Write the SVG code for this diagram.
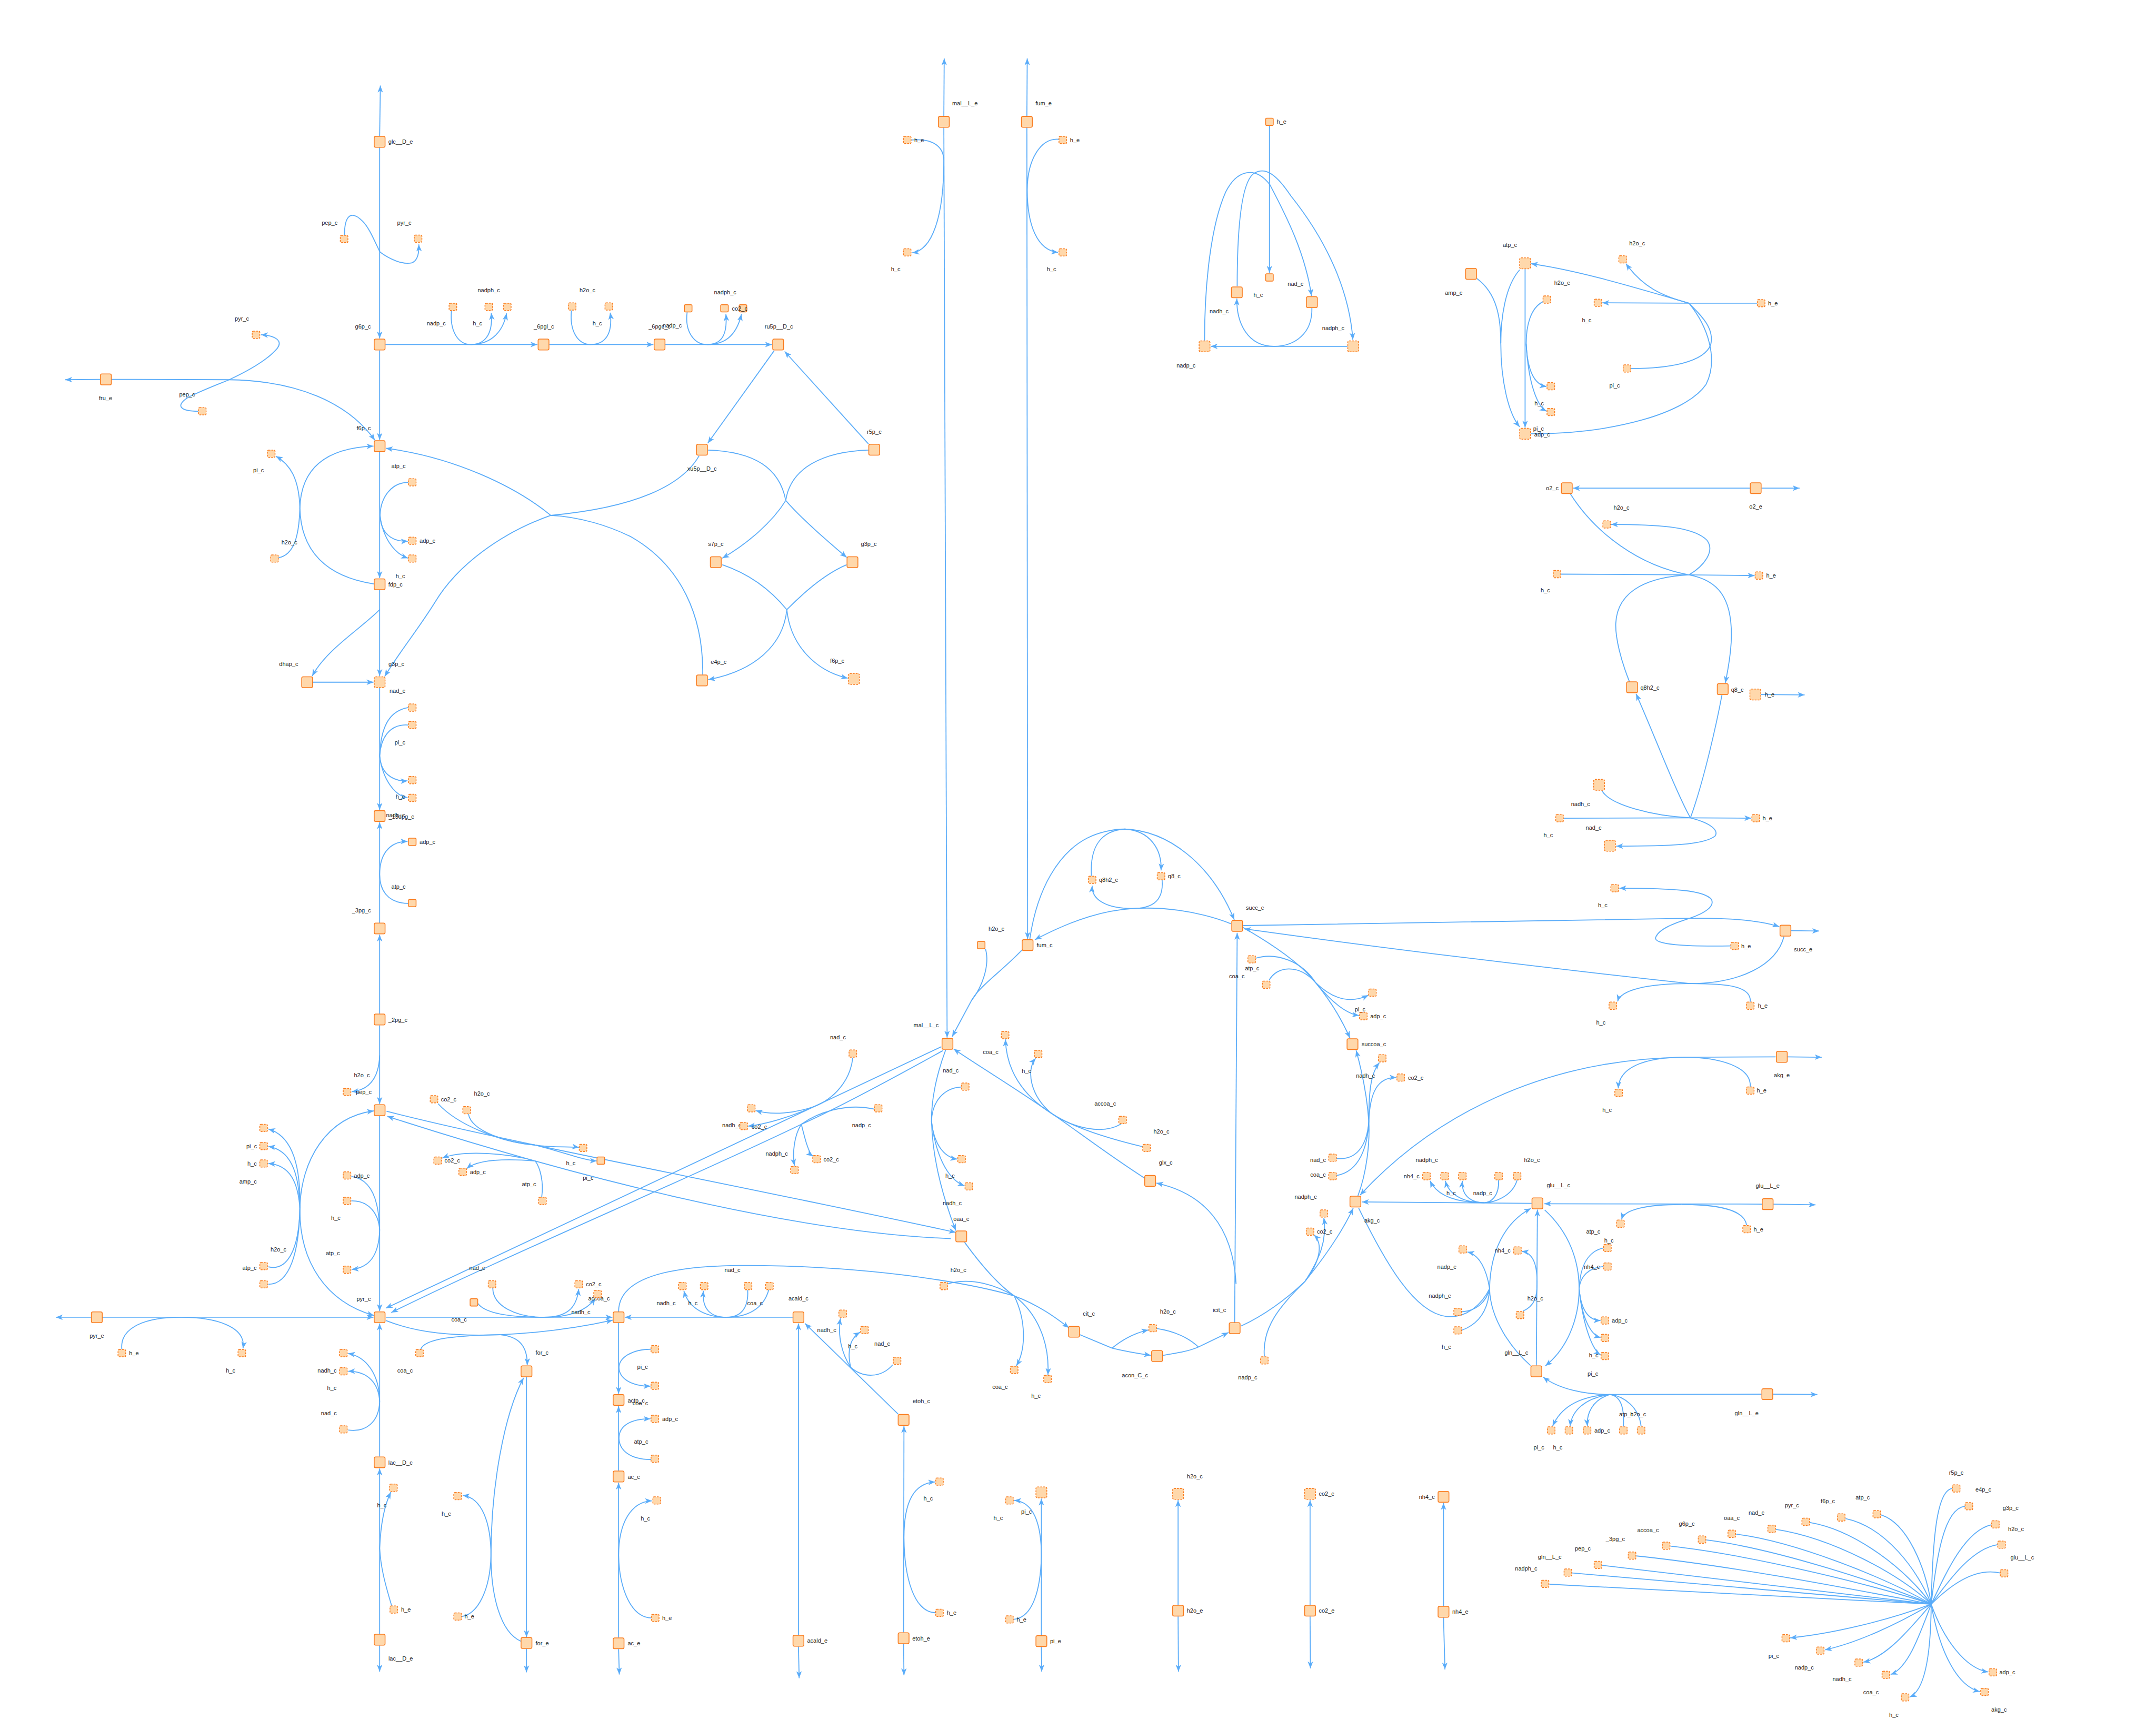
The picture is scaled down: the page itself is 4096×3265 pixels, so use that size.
<svg xmlns="http://www.w3.org/2000/svg" xmlns:xlink="http://www.w3.org/1999/xlink" width="4096" height="3265" viewBox="0 0 4096 3265">
<defs>
<style>
.n{fill:#FFD8AB;stroke:#F97A1C;stroke-width:2.2}
.d{fill:#FFD8AB;stroke:#F97A1C;stroke-width:2.2;stroke-dasharray:5 3}
.e{fill:none;stroke:#5AACF9;stroke-width:2.6}
.a{marker-end:url(#ah)}
.b{marker-start:url(#ah)}
text{font-family:"Liberation Sans",Arial,sans-serif;font-size:16px;fill:#1a1a1a;dominant-baseline:central}
.c{text-anchor:middle}
.s{text-anchor:start}
</style>
<marker id="ah" viewBox="-20 -8 21 16" refX="0" refY="0" markerWidth="21" markerHeight="16" markerUnits="userSpaceOnUse" orient="auto-start-reverse"><path d="M0,0 L-19,-7.5 L-14,0 L-19,7.5 Z" fill="#5AACF9"/></marker>
<rect id="L" x="-15" y="-15" width="30" height="30" rx="4"/>
<rect id="S" x="-10.5" y="-10" width="21" height="20" rx="3"/>
</defs>
<rect width="4096" height="3265" fill="#fff"/>
<g transform="scale(0.68887)">
<g id="connectors">
<path class="e a" d="M1047,375 L1049,236"/>
<path class="e a" d="M1047,407 L1047,933"/>
<path class="e a" d="M950,648 C950,600 965,575 1000,610 C1020,630 1035,670 1048,695 C1075,715 1110,730 1135,725 C1150,720 1156,700 1155,674"/>
<path class="e a" d="M1063,950 L1482,950"/>
<path class="e" d="M1245,857 C1240,915 1265,950 1298,950"/>
<path class="e a" d="M1298,950 C1335,950 1360,925 1355,863"/>
<path class="e a" d="M1298,950 C1345,950 1385,925 1397,864"/>
<path class="e a" d="M1515,950 L1802,950"/>
<path class="e" d="M1576,856 C1570,915 1595,950 1629,950"/>
<path class="e a" d="M1629,950 C1670,950 1690,920 1683,862"/>
<path class="e a" d="M1835,950 L2129,950"/>
<path class="e" d="M1895,861 C1888,915 1915,950 1950,950"/>
<path class="e a" d="M1950,950 C1985,950 2007,930 2002,866"/>
<path class="e a" d="M1950,950 C1995,950 2030,930 2045,866"/>
<path class="e a" d="M2135,967 L1952,1222"/>
<path class="e a" d="M2395,1224 L2164,969"/>
<path class="e" d="M1952,1241 C2080,1245 2150,1290 2167,1380"/>
<path class="e" d="M2395,1241 C2270,1245 2180,1290 2167,1380"/>
<path class="e a" d="M2167,1380 C2130,1440 2060,1500 1992,1539"/>
<path class="e a" d="M2167,1380 C2210,1430 2280,1490 2335,1537"/>
<path class="e" d="M1928,1257 C1880,1340 1750,1400 1519,1421"/>
<path class="e" d="M1938,1860 C1940,1700 1880,1560 1740,1480 C1680,1450 1600,1425 1519,1421"/>
<path class="e a" d="M1519,1421 C1420,1340 1250,1260 1064,1236"/>
<path class="e a" d="M1519,1421 C1380,1470 1260,1560 1200,1660 C1150,1740 1100,1800 1061,1865"/>
<path class="e" d="M1992,1557 C2060,1580 2120,1620 2170,1681"/>
<path class="e" d="M2335,1557 C2280,1580 2220,1630 2170,1681"/>
<path class="e a" d="M2170,1681 C2160,1780 2080,1850 1953,1874"/>
<path class="e a" d="M2170,1681 C2180,1780 2250,1850 2338,1870"/>
<path class="e a" d="M276,1046 L180,1047"/>
<path class="e a" d="M308,1046 L632,1047 C820,1050 960,1110 1034,1214"/>
<path class="e" d="M547,1134 C500,1134 480,1120 520,1095 C560,1075 600,1060 632,1047"/>
<path class="e a" d="M632,1047 C690,1020 740,990 765,960 C780,940 760,925 720,923"/>
<path class="e a" d="M1047,966 L1047,1213"/>
<path class="e a" d="M1047,1246 L1047,1594"/>
<path class="e" d="M1126,1330 C1080,1330 1050,1370 1048,1421"/>
<path class="e a" d="M1048,1421 C1050,1465 1075,1495 1125,1492"/>
<path class="e a" d="M1048,1421 C1055,1480 1085,1525 1125,1539"/>
<path class="e a" d="M1031,1610 C900,1590 830,1520 827,1401 C830,1290 900,1235 1030,1230"/>
<path class="e" d="M768,1538 C810,1530 825,1480 827,1401"/>
<path class="e a" d="M827,1401 C825,1320 800,1280 761,1258"/>
<path class="e a" d="M1047,1627 L1047,1864"/>
<path class="e a" d="M1047,1681 C1000,1730 900,1790 861,1864"/>
<path class="e a" d="M863,1881 L1030,1881"/>
<path class="e a" d="M1047,1897 L1047,2233"/>
<path class="e" d="M1126,1951 C1070,1960 1050,2010 1047,2084"/>
<path class="e" d="M1126,1999 C1070,1995 1050,2040 1047,2084"/>
<path class="e a" d="M1047,2084 C1050,2130 1080,2155 1124,2153"/>
<path class="e a" d="M1047,2084 C1055,2150 1090,2195 1124,2199"/>
<path class="e a" d="M1047,2545 L1047,2267"/>
<path class="e a" d="M1126,2491 C1065,2490 1047,2450 1047,2411 C1047,2360 1070,2320 1124,2320"/>
<path class="e a" d="M1047,2795 L1047,2577"/>
<path class="e a" d="M1047,2827 L1047,3044"/>
<path class="e a" d="M1047,2910 C1045,2970 1020,3005 970,3010"/>
<path class="e a" d="M1047,3077 L1047,3615"/>
<path class="e" d="M969,3244 C1020,3250 1045,3300 1047,3392"/>
<path class="e" d="M969,3311 C1020,3310 1045,3350 1047,3392"/>
<path class="e a" d="M1047,3392 C1045,3460 1020,3495 970,3500"/>
<path class="e a b" d="M1031,3063 C900,3080 830,3200 827,3331 C825,3480 900,3590 1031,3627"/>
<path class="e a" d="M827,3331 C830,3200 800,3130 740,3113"/>
<path class="e a" d="M827,3331 C825,3230 800,3170 740,3161"/>
<path class="e a" d="M827,3331 C822,3260 800,3212 740,3208"/>
<path class="e" d="M740,3493 C790,3505 825,3450 827,3331"/>
<path class="e" d="M740,3541 C800,3541 825,3450 827,3331"/>
<path class="e a" d="M1047,4016 L1047,3649"/>
<path class="e" d="M960,3943 C1010,3950 1045,3920 1047,3865"/>
<path class="e a" d="M1047,3865 C1047,3790 1010,3740 960,3732"/>
<path class="e a" d="M1047,3865 C1045,3815 1015,3780 960,3781"/>
<path class="e a" d="M1047,4505 L1047,4049"/>
<path class="e a" d="M1080,4427 C1060,4360 1050,4320 1047,4269 C1050,4200 1060,4150 1078,4114"/>
<path class="e a" d="M1047,4537 L1047,4609"/>
<path class="e a" d="M251,3632 L154,3632"/>
<path class="e a" d="M283,3632 L1030,3632"/>
<path class="e a" d="M336,3720 C330,3660 400,3632 499,3632 C600,3632 680,3660 670,3718"/>
<path class="e a" d="M1064,3632 L1689,3632"/>
<path class="e" d="M1318,3594 C1340,3625 1420,3632 1500,3632"/>
<path class="e" d="M1359,3552 C1360,3600 1420,3632 1500,3632"/>
<path class="e a" d="M1500,3632 C1560,3632 1590,3610 1596,3554"/>
<path class="e a" d="M1500,3632 C1580,3632 1620,3610 1642,3580"/>
<path class="e" d="M1064,3641 C1150,3675 1250,3685 1380,3680"/>
<path class="e a" d="M1380,3680 C1430,3685 1455,3710 1454,3764"/>
<path class="e a" d="M1380,3680 C1500,3675 1600,3660 1690,3640"/>
<path class="e" d="M1160,3721 C1170,3690 1260,3682 1380,3680"/>
<path class="e a" d="M1452,3797 L1452,4514"/>
<path class="e a" d="M1452,4546 L1452,4611"/>
<path class="e a" d="M1436,4525 C1380,4500 1354,4400 1354,4289 C1354,4100 1390,3900 1444,3799"/>
<path class="e a" d="M1273,4457 C1320,4450 1352,4380 1354,4289 C1354,4200 1330,4130 1276,4123"/>
<path class="e a" d="M1706,4547 L1708,4617"/>
<path class="e a" d="M1706,4515 L1706,4088"/>
<path class="e a" d="M1797,4461 C1740,4460 1708,4380 1706,4289 C1706,4200 1740,4140 1798,4138"/>
<path class="e a" d="M1706,4055 L1706,3877"/>
<path class="e a" d="M1796,4024 C1740,4025 1708,4000 1707,3966 C1707,3930 1740,3912 1794,3912"/>
<path class="e a" d="M1706,3648 L1706,3843"/>
<path class="e a" d="M1796,3720 C1740,3720 1708,3745 1707,3770 C1707,3800 1740,3822 1794,3822"/>
<path class="e a" d="M2186,3632 L1723,3632"/>
<path class="e" d="M2062,3557 C2065,3610 2040,3632 2004,3632"/>
<path class="e" d="M2120,3557 C2105,3610 2060,3632 2004,3632"/>
<path class="e a" d="M2004,3632 C1950,3632 1900,3610 1886,3559"/>
<path class="e a" d="M2004,3632 C1960,3632 1935,3610 1940,3559"/>
<path class="e a" d="M2477,3899 L2220,3649"/>
<path class="e" d="M2462,3763 C2430,3800 2380,3800 2346,3770"/>
<path class="e a" d="M2346,3770 C2320,3730 2310,3680 2318,3635"/>
<path class="e a" d="M2346,3770 C2335,3720 2345,3690 2372,3673"/>
<path class="e a" d="M2492,4501 L2493,3932"/>
<path class="e a" d="M2492,4533 L2493,4619"/>
<path class="e a" d="M2581,4447 C2520,4445 2494,4350 2493,4240 C2493,4140 2520,4090 2579,4086"/>
<path class="e a" d="M2202,4508 L2202,3649"/>
<path class="e a" d="M2202,4540 L2204,4627"/>
<path class="e a" d="M2872,4509 L2872,4132"/>
<path class="e a" d="M2872,4541 L2873,4609"/>
<path class="e a" d="M2795,4465 C2850,4460 2870,4380 2872,4290 C2872,4200 2850,4140 2797,4137"/>
<path class="e a" d="M3249,4425 L3249,4136"/>
<path class="e a" d="M3249,4457 L3250,4609"/>
<path class="e a" d="M3613,4425 L3613,4136"/>
<path class="e a" d="M3613,4457 L3614,4600"/>
<path class="e a" d="M3981,4428 L3981,4144"/>
<path class="e a" d="M3981,4460 L3985,4603"/>
<path class="e a" d="M2603,320 L2604,161"/>
<path class="e a" d="M2832,320 L2833,161"/>
<path class="e a" d="M2603,352 L2612,2861"/>
<path class="e a" d="M2513,386 C2580,380 2603,410 2603,443 C2603,600 2570,690 2516,697"/>
<path class="e a" d="M2832,352 L2834,2589"/>
<path class="e a" d="M2920,384 C2870,380 2833,440 2833,524 C2833,620 2860,690 2918,696"/>
<path class="e a" d="M2818,2620 C2760,2680 2700,2720 2679,2759 L2626,2858"/>
<path class="e" d="M2718,2617 C2730,2660 2710,2720 2679,2759"/>
<path class="e a" d="M2840,2590 C2860,2450 2920,2350 3000,2310 C3030,2295 3070,2286 3102,2286 C3220,2290 3340,2380 3404,2536"/>
<path class="e" d="M3010,2415 C3005,2330 3040,2290 3102,2286"/>
<path class="e a" d="M3102,2286 C3170,2290 3205,2340 3202,2400"/>
<path class="e a" d="M3395,2547 C3300,2510 3200,2500 3124,2505 C3050,2510 2970,2530 2854,2591"/>
<path class="e" d="M3205,2427 C3210,2490 3170,2505 3124,2505"/>
<path class="e a" d="M3124,2505 C3050,2505 3010,2480 3012,2442"/>
<path class="e a" d="M3429,2552 L4660,2532 C4780,2530 4860,2540 4907,2555"/>
<path class="e a" d="M4773,2608 C4650,2610 4560,2605 4566,2585 C4575,2560 4620,2545 4660,2532 C4700,2518 4730,2500 4720,2480 C4700,2455 4620,2449 4466,2449"/>
<path class="e a" d="M4920,2582 C4900,2660 4800,2712 4660,2712 Q4000,2640 3431,2561"/>
<path class="e" d="M4827,2762 C4830,2720 4770,2712 4660,2712"/>
<path class="e a" d="M4660,2712 C4540,2712 4470,2730 4461,2761"/>
<path class="e a" d="M4897,2914 L4646,2915 C4250,2920 3950,3080 3751,3295"/>
<path class="e" d="M4827,2996 C4830,2940 4740,2915 4646,2915"/>
<path class="e a" d="M4646,2915 C4530,2915 4465,2945 4463,3001"/>
<path class="e a" d="M4930,2914 L5024,2915"/>
<path class="e a" d="M4940,2566 L5017,2567"/>
<path class="e a" d="M3428,2557 C3520,2610 3590,2660 3628,2709 C3670,2760 3700,2810 3723,2862"/>
<path class="e" d="M3463,2642 C3520,2625 3590,2650 3628,2709"/>
<path class="e" d="M3500,2703 C3520,2665 3580,2655 3628,2709"/>
<path class="e a" d="M3628,2709 C3680,2760 3730,2765 3774,2744"/>
<path class="e a" d="M3628,2709 C3670,2760 3710,2795 3748,2800"/>
<path class="e a" d="M3745,3297 C3770,3230 3778,3150 3775,3092 C3770,3020 3755,2950 3740,2896"/>
<path class="e" d="M3686,3194 C3740,3200 3770,3160 3775,3092"/>
<path class="e" d="M3686,3241 C3750,3230 3772,3160 3775,3092"/>
<path class="e a" d="M3775,3092 C3775,3010 3780,2960 3804,2930"/>
<path class="e a" d="M3775,3092 C3778,3010 3800,2970 3851,2971"/>
<path class="e a" d="M3423,3656 C3500,3620 3560,3570 3599,3533 C3650,3470 3700,3400 3732,3331"/>
<path class="e" d="M3487,3740 C3480,3660 3530,3600 3599,3533"/>
<path class="e a" d="M3599,3533 C3640,3470 3660,3420 3651,3358"/>
<path class="e a" d="M3599,3533 C3640,3480 3650,3430 3624,3405"/>
<path class="e a" d="M2978,3680 L3067,3717 C3100,3725 3140,3732 3174,3737"/>
<path class="e a" d="M3067,3717 C3100,3690 3130,3675 3167,3667"/>
<path class="e a" d="M3208,3737 C3250,3730 3280,3725 3305,3714 L3388,3674"/>
<path class="e" d="M3190,3663 C3240,3670 3280,3690 3305,3714"/>
<path class="e a" d="M3405,3647 L3412,2572"/>
<path class="e a" d="M3409,3540 C3400,3380 3320,3290 3189,3262"/>
<path class="e a" d="M3156,3248 C3050,3180 2960,3110 2900,3070 C2800,3000 2700,2940 2630,2892"/>
<path class="e" d="M3092,3099 C3040,3130 2960,3110 2900,3070"/>
<path class="e" d="M3152,3162 C3060,3140 2960,3110 2900,3070"/>
<path class="e a" d="M2900,3070 C2820,3020 2775,2950 2773,2866"/>
<path class="e a" d="M2900,3070 C2840,3020 2830,2950 2856,2918"/>
<path class="e a" d="M2608,2895 C2580,2970 2568,3040 2569,3092 C2572,3200 2600,3300 2636,3393"/>
<path class="e" d="M2651,2997 C2600,3000 2570,3040 2569,3092"/>
<path class="e a" d="M2569,3092 C2575,3150 2600,3190 2640,3196"/>
<path class="e a" d="M2569,3092 C2580,3180 2610,3250 2660,3270"/>
<path class="e a" d="M2596,2886 L1064,3607"/>
<path class="e" d="M2352,2916 C2345,2980 2300,3030 2245,3051"/>
<path class="e a" d="M2245,3051 C2190,3070 2130,3075 2084,3062"/>
<path class="e a" d="M2245,3051 C2180,3080 2110,3100 2063,3105"/>
<path class="e a" d="M2600,2897 C2450,2980 2300,3060 2210,3100 C1900,3250 1400,3460 1079,3619"/>
<path class="e" d="M2411,3058 C2330,3040 2250,3070 2210,3100"/>
<path class="e a" d="M2210,3100 C2190,3130 2185,3180 2191,3214"/>
<path class="e a" d="M2210,3100 C2220,3140 2230,3180 2242,3188"/>
<path class="e a" d="M1066,3064 C1400,3150 2000,3260 2636,3398"/>
<path class="e" d="M1208,3043 C1260,3100 1380,3150 1475,3157"/>
<path class="e" d="M1292,3072 C1300,3120 1400,3150 1475,3157"/>
<path class="e a" d="M1475,3157 C1530,3165 1570,3160 1597,3164"/>
<path class="e a" d="M1475,3157 C1550,3175 1610,3200 1646,3201"/>
<path class="e a" d="M2622,3415 C2200,3400 1600,3250 1068,3078"/>
<path class="e" d="M1494,3300 C1500,3260 1490,3220 1476,3201"/>
<path class="e a" d="M1476,3201 C1400,3180 1280,3170 1220,3193"/>
<path class="e a" d="M1476,3201 C1400,3195 1320,3195 1287,3222"/>
<path class="e a" d="M1706,3616 C1706,3480 2000,3485 2200,3492 C2500,3505 2700,3545 2797,3573 C2870,3600 2920,3640 2948,3661"/>
<path class="e" d="M2660,3425 C2700,3480 2750,3540 2797,3573"/>
<path class="e" d="M2613,3540 C2680,3520 2750,3545 2797,3573"/>
<path class="e a" d="M2797,3573 C2830,3640 2830,3720 2803,3766"/>
<path class="e a" d="M2797,3573 C2860,3620 2895,3700 2890,3791"/>
<path class="e a" d="M4224,3318 L3756,3314"/>
<path class="e" d="M4133,3254 C4135,3300 4110,3316 4093,3316"/>
<path class="e" d="M4184,3254 C4170,3300 4120,3316 4093,3316"/>
<path class="e a" d="M4093,3316 C4000,3316 3960,3290 3944,3256"/>
<path class="e a" d="M4093,3316 C4030,3316 3995,3290 3986,3256"/>
<path class="e a" d="M4093,3316 C4050,3316 4030,3290 4033,3256"/>
<path class="e" d="M3747,3331 C3820,3480 3900,3620 3990,3630 C4050,3635 4090,3590 4108,3553"/>
<path class="e" d="M4221,3765 C4170,3720 4110,3640 4108,3553"/>
<path class="e a" d="M4108,3553 C4110,3450 4150,3370 4222,3332"/>
<path class="e a" d="M4108,3553 C4100,3500 4080,3460 4047,3452"/>
<path class="e" d="M4031,3617 C4070,3615 4100,3590 4108,3553"/>
<path class="e" d="M4031,3668 C4080,3650 4105,3610 4108,3553"/>
<path class="e a" d="M4260,3336 C4330,3400 4355,3480 4355,3553 C4355,3640 4320,3720 4262,3766"/>
<path class="e" d="M4422,3441 C4380,3450 4358,3490 4355,3553"/>
<path class="e" d="M4422,3492 C4380,3495 4358,3520 4355,3553"/>
<path class="e a" d="M4355,3553 C4360,3610 4380,3640 4414,3641"/>
<path class="e a" d="M4355,3553 C4362,3630 4385,3680 4414,3688"/>
<path class="e a" d="M4355,3553 C4365,3650 4390,3720 4414,3736"/>
<path class="e a" d="M4237,3765 L4240,3335"/>
<path class="e" d="M4200,3615 C4235,3600 4239,3570 4239,3543"/>
<path class="e a" d="M4239,3543 C4240,3490 4230,3455 4197,3450"/>
<path class="e a" d="M4858,3844 L4440,3845 C4370,3845 4300,3830 4256,3797"/>
<path class="e" d="M4477,3933 C4480,3880 4470,3850 4440,3845"/>
<path class="e" d="M4526,3933 C4520,3880 4480,3850 4440,3845"/>
<path class="e a" d="M4440,3845 C4340,3850 4300,3890 4282,3932"/>
<path class="e a" d="M4440,3845 C4370,3855 4335,3890 4330,3932"/>
<path class="e a" d="M4440,3845 C4390,3860 4375,3900 4378,3932"/>
<path class="e a" d="M4890,3844 L5012,3845"/>
<path class="e a" d="M4859,3320 L4259,3319"/>
<path class="e" d="M4817,3378 C4810,3330 4720,3321 4637,3321"/>
<path class="e a" d="M4637,3321 C4540,3321 4480,3335 4472,3362"/>
<path class="e a" d="M4891,3320 L5007,3322"/>
<path class="e" d="M5384,4104 C5340,4110 5330,4250 5326,4423"/>
<path class="e" d="M5419,4153 C5360,4160 5340,4300 5326,4423"/>
<path class="e" d="M5492,4204 C5420,4220 5370,4330 5326,4423"/>
<path class="e" d="M5509,4259 C5440,4270 5380,4350 5326,4423"/>
<path class="e" d="M5516,4337 C5440,4320 5370,4380 5326,4423"/>
<path class="e" d="M5188,4177 C5260,4200 5310,4320 5326,4423"/>
<path class="e" d="M5090,4187 C5200,4210 5290,4330 5326,4423"/>
<path class="e" d="M4992,4198 C5120,4220 5260,4330 5326,4423"/>
<path class="e" d="M4898,4217 C5050,4240 5240,4340 5326,4423"/>
<path class="e" d="M4788,4230 C4950,4250 5200,4350 5326,4423"/>
<path class="e" d="M4706,4246 C4900,4270 5200,4370 5326,4423"/>
<path class="e" d="M4607,4263 C4850,4290 5200,4380 5326,4423"/>
<path class="e" d="M4513,4290 C4800,4320 5150,4390 5326,4423"/>
<path class="e" d="M4419,4316 L5326,4423"/>
<path class="e" d="M4336,4337 L5326,4423"/>
<path class="e" d="M4273,4368 L5326,4423"/>
<path class="e a" d="M5326,4423 C5200,4470 5050,4505 4937,4516"/>
<path class="e a" d="M5326,4423 C5230,4480 5120,4530 5033,4549"/>
<path class="e a" d="M5326,4423 C5260,4500 5200,4570 5139,4583"/>
<path class="e a" d="M5326,4423 C5290,4520 5260,4600 5214,4617"/>
<path class="e a" d="M5326,4423 C5325,4560 5310,4660 5267,4679"/>
<path class="e a" d="M5326,4423 C5360,4520 5420,4600 5483,4610"/>
<path class="e a" d="M5326,4423 C5350,4560 5400,4650 5460,4664"/>
<path class="e a" d="M4073,768 C4130,810 4139,880 4139,947 C4139,1050 4160,1140 4191,1177"/>
<path class="e" d="M4191,744 C4150,790 4139,880 4139,947"/>
<path class="e a" d="M4206,742 L4206,1179"/>
<path class="e" d="M4255,832 C4220,850 4209,900 4209,947"/>
<path class="e a" d="M4209,947 C4212,1020 4230,1060 4265,1066"/>
<path class="e a" d="M4209,947 C4215,1060 4240,1120 4265,1134"/>
<path class="e" d="M4846,836 L4658,836"/>
<path class="e a" d="M4658,836 L4419,835"/>
<path class="e a" d="M4658,836 C4500,790 4350,745 4222,727"/>
<path class="e a" d="M4658,836 C4580,815 4530,790 4484,727"/>
<path class="e" d="M4498,1016 C4600,1016 4700,1000 4718,950 C4730,900 4680,860 4658,836"/>
<path class="e" d="M4222,1196 C4450,1196 4650,1140 4705,1060 C4740,990 4710,900 4658,836"/>
<path class="e a" d="M4826,1346 L4338,1346"/>
<path class="e a" d="M4858,1346 L4963,1346"/>
<path class="e" d="M4331,1362 C4400,1470 4520,1560 4658,1585"/>
<path class="e" d="M4305,1583 L4658,1585"/>
<path class="e a" d="M4658,1585 L4839,1587"/>
<path class="e a" d="M4658,1585 C4700,1560 4730,1520 4708,1490 C4670,1450 4560,1446 4443,1446"/>
<path class="e" d="M4494,1880 C4470,1820 4455,1760 4456,1720 C4460,1620 4560,1590 4658,1585"/>
<path class="e a" d="M4658,1585 C4740,1600 4775,1650 4775,1750 C4775,1800 4765,1850 4758,1883"/>
<path class="e a" d="M4857,1915 L4977,1916"/>
<path class="e" d="M4312,2256 L4662,2255"/>
<path class="e a" d="M4662,2255 L4830,2256"/>
<path class="e" d="M4418,2180 C4440,2220 4560,2250 4662,2255"/>
<path class="e a" d="M4662,2255 C4720,2270 4740,2290 4730,2305 C4700,2330 4600,2333 4457,2333"/>
<path class="e" d="M4749,1916 C4735,1990 4700,2150 4662,2255"/>
<path class="e a" d="M4662,2255 C4620,2180 4560,2020 4512,1913"/>
<path class="e a" d="M3716,955 L3339,955"/>
<path class="e" d="M3618,849 C3620,920 3570,955 3514,955"/>
<path class="e a" d="M3514,955 C3440,955 3410,890 3411,823"/>
<path class="e a" d="M3501,347 L3501,752"/>
<path class="e a" d="M3322,939 C3322,780 3340,620 3380,530 C3410,470 3460,455 3502,509 C3550,600 3600,700 3617,816"/>
<path class="e a" d="M3412,789 C3412,650 3420,500 3460,477 C3490,460 3520,480 3560,540 C3640,640 3720,780 3731,937"/>
</g>
<g id="n1"><use href="#L" class="n" x="1047" y="391"/><text class="s" x="1071" y="391">glc__D_e</text></g>
<g id="n2"><use href="#S" class="d" x="949" y="659"/><text class="c" x="909" y="614">pep_c</text></g>
<g id="n3"><use href="#S" class="d" x="1153" y="658"/><text class="c" x="1115" y="614">pyr_c</text></g>
<g id="n4"><use href="#L" class="n" x="1047" y="950"/><text class="c" x="1001" y="900">g6p_c</text></g>
<g id="n5"><use href="#S" class="d" x="1249" y="846"/><text class="c" x="1203" y="892">nadp_c</text></g>
<g id="n6"><use href="#S" class="d" x="1348" y="846"/><text class="c" x="1348" y="800">nadph_c</text></g>
<g id="n7"><use href="#S" class="d" x="1399" y="846"/><text class="c" x="1317" y="892">h_c</text></g>
<g id="n8"><use href="#L" class="n" x="1499" y="950"/><text class="c" x="1500" y="900">_6pgl_c</text></g>
<g id="n9"><use href="#S" class="d" x="1578" y="845"/><text class="c" x="1620" y="800">h2o_c</text></g>
<g id="n10"><use href="#S" class="d" x="1679" y="845"/><text class="c" x="1647" y="892">h_c</text></g>
<g id="n11"><use href="#L" class="n" x="1819" y="950"/><text class="c" x="1819" y="900">_6pgc_c</text></g>
<g id="n12"><use href="#S" class="n" x="1898" y="850"/><text class="c" x="1854" y="897">nadp_c</text></g>
<g id="n13"><use href="#S" class="n" x="1998" y="850"/><text class="c" x="2000" y="805">nadph_c</text></g>
<g id="n14"><use href="#S" class="n" x="2049" y="850"/><text class="c" x="2040" y="851">co2_c</text></g>
<g id="n15"><use href="#L" class="n" x="2146" y="950"/><text class="c" x="2148" y="900">ru5p__D_c</text></g>
<g id="n16"><use href="#L" class="n" x="1936" y="1240"/><text class="c" x="1936" y="1292">xu5p__D_c</text></g>
<g id="n17"><use href="#L" class="n" x="2411" y="1240"/><text class="c" x="2411" y="1190">r5p_c</text></g>
<g id="n18"><use href="#L" class="n" x="1974" y="1550"/><text class="c" x="1974" y="1500">s7p_c</text></g>
<g id="n19"><use href="#L" class="n" x="2351" y="1550"/><text class="c" x="2396" y="1500">g3p_c</text></g>
<g id="n20"><use href="#L" class="n" x="1936" y="1876"/><text class="c" x="1982" y="1825">e4p_c</text></g>
<g id="n21"><use href="#L" class="d" x="2355" y="1872"/><text class="c" x="2309" y="1822">f6p_c</text></g>
<g id="n22"><use href="#L" class="n" x="292" y="1046"/><text class="c" x="291" y="1097">fru_e</text></g>
<g id="n23"><use href="#S" class="d" x="706" y="923"/><text class="c" x="667" y="878">pyr_c</text></g>
<g id="n24"><use href="#S" class="d" x="558" y="1134"/><text class="c" x="516" y="1088">pep_c</text></g>
<g id="n25"><use href="#L" class="n" x="1047" y="1230"/><text class="c" x="1003" y="1180">f6p_c</text></g>
<g id="n26"><use href="#S" class="d" x="748" y="1251"/><text class="c" x="713" y="1297">pi_c</text></g>
<g id="n27"><use href="#S" class="d" x="757" y="1540"/><text class="c" x="798" y="1495">h2o_c</text></g>
<g id="n28"><use href="#S" class="d" x="1137" y="1330"/><text class="c" x="1099" y="1285">atp_c</text></g>
<g id="n29"><use href="#S" class="d" x="1137" y="1491"/><text class="s" x="1157" y="1491">adp_c</text></g>
<g id="n30"><use href="#S" class="d" x="1137" y="1540"/><text class="c" x="1104" y="1588">h_c</text></g>
<g id="n31"><use href="#L" class="n" x="1047" y="1611"/><text class="s" x="1071" y="1611">fdp_c</text></g>
<g id="n32"><use href="#L" class="n" x="847" y="1881"/><text class="c" x="796" y="1830">dhap_c</text></g>
<g id="n33"><use href="#L" class="d" x="1047" y="1881"/><text class="c" x="1093" y="1830">g3p_c</text></g>
<g id="n34"><use href="#S" class="d" x="1137" y="1951"/><text class="c" x="1096" y="1905">nad_c</text></g>
<g id="n35"><use href="#S" class="d" x="1137" y="1999"/><text class="c" x="1103" y="2047">pi_c</text></g>
<g id="n36"><use href="#S" class="d" x="1137" y="2151"/><text class="c" x="1091" y="2247">nadh_c</text></g>
<g id="n37"><use href="#S" class="d" x="1137" y="2200"/><text class="c" x="1104" y="2197">h_c</text></g>
<g id="n38"><use href="#L" class="n" x="1047" y="2250"/><text class="c" x="1107" y="2251">_13dpg_c</text></g>
<g id="n39"><use href="#S" class="n" x="1137" y="2321"/><text class="s" x="1157" y="2321">adp_c</text></g>
<g id="n40"><use href="#S" class="n" x="1137" y="2490"/><text class="c" x="1099" y="2445">atp_c</text></g>
<g id="n41"><use href="#L" class="n" x="1047" y="2560"/><text class="c" x="997" y="2510">_3pg_c</text></g>
<g id="n42"><use href="#L" class="n" x="1047" y="2811"/><text class="s" x="1071" y="2812">_2pg_c</text></g>
<g id="n43"><use href="#S" class="d" x="957" y="3011"/><text class="c" x="998" y="2965">h2o_c</text></g>
<g id="n44"><use href="#L" class="n" x="1047" y="3061"/><text class="c" x="1003" y="3011">pep_c</text></g>
<g id="n45"><use href="#S" class="d" x="1197" y="3031"/><text class="s" x="1216" y="3031">co2_c</text></g>
<g id="n46"><use href="#S" class="d" x="1287" y="3061"/><text class="c" x="1329" y="3015">h2o_c</text></g>
<g id="n47"><use href="#S" class="d" x="727" y="3110"/><text class="c" x="684" y="3257">amp_c</text></g>
<g id="n48"><use href="#S" class="d" x="727" y="3160"/><text class="c" x="694" y="3160">pi_c</text></g>
<g id="n49"><use href="#S" class="d" x="727" y="3208"/><text class="c" x="695" y="3208">h_c</text></g>
<g id="n50"><use href="#S" class="d" x="727" y="3491"/><text class="c" x="688" y="3496">atp_c</text></g>
<g id="n51"><use href="#S" class="d" x="727" y="3541"/><text class="c" x="768" y="3445">h2o_c</text></g>
<g id="n52"><use href="#S" class="d" x="957" y="3241"/><text class="s" x="976" y="3241">adp_c</text></g>
<g id="n53"><use href="#S" class="d" x="957" y="3311"/><text class="c" x="926" y="3357">h_c</text></g>
<g id="n54"><use href="#S" class="d" x="957" y="3501"/><text class="c" x="918" y="3455">atp_c</text></g>
<g id="n55"><use href="#L" class="n" x="1047" y="3632"/><text class="c" x="1003" y="3581">pyr_c</text></g>
<g id="n56"><use href="#L" class="n" x="267" y="3632"/><text class="c" x="267" y="3683">pyr_e</text></g>
<g id="n57"><use href="#S" class="d" x="336" y="3731"/><text class="s" x="356" y="3731">h_e</text></g>
<g id="n58"><use href="#S" class="d" x="667" y="3731"/><text class="c" x="636" y="3778">h_c</text></g>
<g id="n59"><use href="#S" class="d" x="947" y="3731"/><text class="c" x="915" y="3827">h_c</text></g>
<g id="n60"><use href="#S" class="d" x="947" y="3781"/><text class="c" x="902" y="3778">nadh_c</text></g>
<g id="n61"><use href="#S" class="d" x="947" y="3941"/><text class="c" x="907" y="3896">nad_c</text></g>
<g id="n62"><use href="#L" class="n" x="1047" y="4032"/><text class="s" x="1071" y="4032">lac__D_c</text></g>
<g id="n63"><use href="#S" class="d" x="1085" y="4102"/><text class="c" x="1053" y="4151">h_c</text></g>
<g id="n64"><use href="#S" class="d" x="1086" y="4438"/><text class="s" x="1106" y="4438">h_e</text></g>
<g id="n65"><use href="#L" class="n" x="1047" y="4521"/><text class="c" x="1105" y="4573">lac__D_e</text></g>
<g id="n66"><use href="#S" class="d" x="1157" y="3731"/><text class="c" x="1117" y="3778">coa_c</text></g>
<g id="n67"><use href="#S" class="n" x="1307" y="3591"/><text class="c" x="1266" y="3638">coa_c</text></g>
<g id="n68"><use href="#S" class="d" x="1357" y="3541"/><text class="c" x="1316" y="3496">nad_c</text></g>
<g id="n69"><use href="#L" class="n" x="1452" y="3781"/><text class="s" x="1477" y="3730">for_c</text></g>
<g id="n70"><use href="#L" class="n" x="1452" y="4530"/><text class="s" x="1477" y="4530">for_e</text></g>
<g id="n71"><use href="#S" class="d" x="1262" y="4125"/><text class="c" x="1231" y="4173">h_c</text></g>
<g id="n72"><use href="#S" class="d" x="1262" y="4457"/><text class="s" x="1281" y="4457">h_e</text></g>
<g id="n73"><use href="#S" class="d" x="1207" y="3200"/><text class="s" x="1226" y="3200">co2_c</text></g>
<g id="n74"><use href="#S" class="d" x="1276" y="3231"/><text class="s" x="1296" y="3231">adp_c</text></g>
<g id="n75"><use href="#S" class="d" x="1496" y="3311"/><text class="c" x="1459" y="3265">atp_c</text></g>
<g id="n76"><use href="#S" class="d" x="1608" y="3165"/><text class="c" x="1574" y="3207">h_c</text></g>
<g id="n77"><use href="#S" class="n" x="1657" y="3200"/><text class="c" x="1622" y="3247">pi_c</text></g>
<g id="n78"><use href="#L" class="n" x="1706" y="3632"/><text class="c" x="1652" y="3580">accoa_c</text></g>
<g id="n79"><use href="#S" class="d" x="1596" y="3541"/><text class="s" x="1616" y="3541">co2_c</text></g>
<g id="n80"><use href="#S" class="d" x="1648" y="3568"/><text class="c" x="1602" y="3618">nadh_c</text></g>
<g id="n81"><use href="#S" class="d" x="1806" y="3720"/><text class="c" x="1772" y="3768">pi_c</text></g>
<g id="n82"><use href="#S" class="d" x="1806" y="3821"/><text class="c" x="1766" y="3868">coa_c</text></g>
<g id="n83"><use href="#L" class="n" x="1706" y="3860"/><text class="s" x="1731" y="3862">actp_c</text></g>
<g id="n84"><use href="#S" class="d" x="1806" y="3912"/><text class="s" x="1826" y="3912">adp_c</text></g>
<g id="n85"><use href="#S" class="d" x="1806" y="4022"/><text class="c" x="1768" y="3975">atp_c</text></g>
<g id="n86"><use href="#L" class="n" x="1706" y="4071"/><text class="s" x="1731" y="4072">ac_c</text></g>
<g id="n87"><use href="#S" class="d" x="1811" y="4137"/><text class="c" x="1780" y="4186">h_c</text></g>
<g id="n88"><use href="#S" class="d" x="1807" y="4461"/><text class="s" x="1826" y="4461">h_e</text></g>
<g id="n89"><use href="#L" class="n" x="1706" y="4531"/><text class="s" x="1731" y="4531">ac_e</text></g>
<g id="n90"><use href="#S" class="d" x="1882" y="3546"/><text class="c" x="1837" y="3593">nadh_c</text></g>
<g id="n91"><use href="#S" class="d" x="1942" y="3546"/><text class="c" x="1911" y="3593">h_c</text></g>
<g id="n92"><use href="#S" class="d" x="2063" y="3546"/><text class="c" x="2082" y="3593">coa_c</text></g>
<g id="n93"><use href="#S" class="d" x="2122" y="3546"/><text class="c" x="2020" y="3501">nad_c</text></g>
<g id="n94"><use href="#L" class="n" x="2202" y="3632"/><text class="c" x="2202" y="3580">acald_c</text></g>
<g id="n95"><use href="#S" class="d" x="2324" y="3622"/><text class="c" x="2280" y="3667">nadh_c</text></g>
<g id="n96"><use href="#S" class="d" x="2384" y="3667"/><text class="c" x="2352" y="3712">h_c</text></g>
<g id="n97"><use href="#S" class="d" x="2474" y="3752"/><text class="c" x="2433" y="3705">nad_c</text></g>
<g id="n98"><use href="#L" class="n" x="2492" y="3915"/><text class="c" x="2541" y="3863">etoh_c</text></g>
<g id="n99"><use href="#S" class="d" x="2591" y="4085"/><text class="c" x="2560" y="4132">h_c</text></g>
<g id="n100"><use href="#S" class="d" x="2591" y="4447"/><text class="s" x="2611" y="4447">h_e</text></g>
<g id="n101"><use href="#L" class="n" x="2492" y="4517"/><text class="s" x="2516" y="4517">etoh_e</text></g>
<g id="n102"><use href="#L" class="n" x="2202" y="4524"/><text class="s" x="2226" y="4524">acald_e</text></g>
<g id="n103"><use href="#L" class="d" x="2872" y="4115"/><text class="c" x="2831" y="4168">pi_c</text></g>
<g id="n104"><use href="#S" class="d" x="2784" y="4137"/><text class="c" x="2753" y="4185">h_c</text></g>
<g id="n105"><use href="#S" class="d" x="2784" y="4465"/><text class="s" x="2804" y="4465">h_e</text></g>
<g id="n106"><use href="#L" class="n" x="2872" y="4525"/><text class="s" x="2896" y="4525">pi_e</text></g>
<g id="n107"><use href="#S" class="d" x="2603" y="3546"/><text class="c" x="2643" y="3501">h2o_c</text></g>
<g id="n108"><use href="#S" class="d" x="2797" y="3777"/><text class="c" x="2758" y="3823">coa_c</text></g>
<g id="n109"><use href="#S" class="d" x="2889" y="3802"/><text class="c" x="2857" y="3849">h_c</text></g>
<g id="n110"><use href="#S" class="d" x="2191" y="3226"/><text class="c" x="2142" y="3180">nadph_c</text></g>
<g id="n111"><use href="#S" class="d" x="2252" y="3196"/><text class="s" x="2271" y="3196">co2_c</text></g>
<g id="n112"><use href="#S" class="d" x="2652" y="3196"/><text class="c" x="2620" y="3241">h_c</text></g>
<g id="n113"><use href="#S" class="d" x="2672" y="3271"/><text class="c" x="2626" y="3317">nadh_c</text></g>
<g id="n114"><use href="#L" class="n" x="2651" y="3409"/><text class="c" x="2651" y="3360">oaa_c</text></g>
<g id="n115"><use href="#L" class="n" x="2962" y="3672"/><text class="c" x="3003" y="3622">cit_c</text></g>
<g id="n116"><use href="#L" class="n" x="2834" y="2606"/><text class="s" x="2859" y="2606">fum_c</text></g>
<g id="n117"><use href="#S" class="n" x="2706" y="2606"/><text class="c" x="2748" y="2561">h2o_c</text></g>
<g id="n118"><use href="#L" class="n" x="2613" y="2878"/><text class="c" x="2554" y="2827">mal__L_c</text></g>
<g id="n119"><use href="#S" class="d" x="2352" y="2905"/><text class="c" x="2311" y="2860">nad_c</text></g>
<g id="n120"><use href="#S" class="d" x="2072" y="3056"/><text class="c" x="2018" y="3102">nadh_c</text></g>
<g id="n121"><use href="#S" class="d" x="2051" y="3105"/><text class="c" x="2094" y="3106">co2_c</text></g>
<g id="n122"><use href="#S" class="d" x="2422" y="3056"/><text class="c" x="2376" y="3102">nadp_c</text></g>
<g id="n123"><use href="#S" class="d" x="2662" y="2996"/><text class="c" x="2622" y="2951">nad_c</text></g>
<g id="n124"><use href="#S" class="d" x="2772" y="2854"/><text class="c" x="2732" y="2900">coa_c</text></g>
<g id="n125"><use href="#S" class="d" x="2863" y="2906"/><text class="c" x="2831" y="2952">h_c</text></g>
<g id="n126"><use href="#L" class="n" x="2603" y="336"/><text class="c" x="2661" y="285">mal__L_e</text></g>
<g id="n127"><use href="#L" class="n" x="2832" y="336"/><text class="c" x="2878" y="285">fum_e</text></g>
<g id="n128"><use href="#S" class="d" x="2502" y="386"/><text class="c" x="2535" y="386">h_e</text></g>
<g id="n129"><use href="#S" class="d" x="2502" y="696"/><text class="c" x="2470" y="742">h_c</text></g>
<g id="n130"><use href="#S" class="d" x="2931" y="386"/><text class="s" x="2951" y="386">h_e</text></g>
<g id="n131"><use href="#S" class="d" x="2931" y="696"/><text class="c" x="2900" y="742">h_c</text></g>
<g id="n132"><use href="#S" class="n" x="3501" y="336"/><text class="s" x="3521" y="336">h_e</text></g>
<g id="n133"><use href="#S" class="n" x="3501" y="765"/><text class="c" x="3470" y="813">h_c</text></g>
<g id="n134"><use href="#L" class="n" x="3411" y="806"/><text class="c" x="3362" y="858">nadh_c</text></g>
<g id="n135"><use href="#L" class="n" x="3618" y="833"/><text class="c" x="3573" y="782">nad_c</text></g>
<g id="n136"><use href="#L" class="d" x="3732" y="955"/><text class="c" x="3677" y="905">nadph_c</text></g>
<g id="n137"><use href="#L" class="d" x="3322" y="955"/><text class="c" x="3271" y="1007">nadp_c</text></g>
<g id="n138"><use href="#L" class="d" x="4206" y="726"/><text class="c" x="4164" y="675">atp_c</text></g>
<g id="n139"><use href="#L" class="n" x="4057" y="755"/><text class="c" x="4009" y="807">amp_c</text></g>
<g id="n140"><use href="#L" class="d" x="4206" y="1196"/><text class="c" x="4253" y="1197">adp_c</text></g>
<g id="n141"><use href="#S" class="d" x="4266" y="826"/><text class="c" x="4308" y="780">h2o_c</text></g>
<g id="n142"><use href="#S" class="d" x="4407" y="835"/><text class="c" x="4376" y="882">h_c</text></g>
<g id="n143"><use href="#S" class="d" x="4277" y="1065"/><text class="c" x="4245" y="1112">h_c</text></g>
<g id="n144"><use href="#S" class="d" x="4277" y="1136"/><text class="c" x="4243" y="1182">pi_c</text></g>
<g id="n145"><use href="#S" class="d" x="4475" y="715"/><text class="c" x="4515" y="670">h2o_c</text></g>
<g id="n146"><use href="#S" class="d" x="4857" y="836"/><text class="s" x="4876" y="836">h_e</text></g>
<g id="n147"><use href="#S" class="d" x="4487" y="1016"/><text class="c" x="4453" y="1062">pi_c</text></g>
<g id="n148"><use href="#L" class="n" x="4321" y="1346"/><text class="c" x="4281" y="1346">o2_c</text></g>
<g id="n149"><use href="#L" class="n" x="4842" y="1346"/><text class="c" x="4842" y="1397">o2_e</text></g>
<g id="n150"><use href="#S" class="d" x="4431" y="1446"/><text class="c" x="4472" y="1400">h2o_c</text></g>
<g id="n151"><use href="#S" class="d" x="4294" y="1583"/><text class="c" x="4262" y="1627">h_c</text></g>
<g id="n152"><use href="#S" class="d" x="4851" y="1587"/><text class="s" x="4871" y="1587">h_e</text></g>
<g id="n153"><use href="#L" class="n" x="4501" y="1895"/><text class="s" x="4524" y="1896">q8h2_c</text></g>
<g id="n154"><use href="#L" class="n" x="4751" y="1900"/><text class="s" x="4774" y="1901">q8_c</text></g>
<g id="n155"><use href="#L" class="d" x="4841" y="1915"/><text class="s" x="4867" y="1915">h_e</text></g>
<g id="n156"><use href="#L" class="d" x="4410" y="2164"/><text class="c" x="4359" y="2216">nadh_c</text></g>
<g id="n157"><use href="#S" class="d" x="4301" y="2256"/><text class="c" x="4270" y="2303">h_c</text></g>
<g id="n158"><use href="#L" class="d" x="4440" y="2332"/><text class="c" x="4395" y="2282">nad_c</text></g>
<g id="n159"><use href="#S" class="d" x="4842" y="2256"/><text class="s" x="4861" y="2256">h_e</text></g>
<g id="n160"><use href="#S" class="d" x="4453" y="2449"/><text class="c" x="4420" y="2496">h_c</text></g>
<g id="n161"><use href="#S" class="d" x="4784" y="2608"/><text class="s" x="4802" y="2608">h_e</text></g>
<g id="n162"><use href="#L" class="n" x="4924" y="2566"/><text class="c" x="4973" y="2617">succ_e</text></g>
<g id="n163"><use href="#S" class="d" x="4448" y="2773"/><text class="c" x="4415" y="2819">h_c</text></g>
<g id="n164"><use href="#S" class="d" x="4827" y="2773"/><text class="s" x="4848" y="2773">h_e</text></g>
<g id="n165"><use href="#L" class="n" x="4914" y="2914"/><text class="c" x="4914" y="2965">akg_e</text></g>
<g id="n166"><use href="#S" class="d" x="4827" y="3007"/><text class="s" x="4845" y="3007">h_e</text></g>
<g id="n167"><use href="#S" class="d" x="4464" y="3013"/><text class="c" x="4432" y="3060">h_c</text></g>
<g id="n168"><use href="#S" class="d" x="3012" y="2426"/><text class="s" x="3031" y="2426">q8h2_c</text></g>
<g id="n169"><use href="#S" class="d" x="3202" y="2416"/><text class="s" x="3221" y="2416">q8_c</text></g>
<g id="n170"><use href="#L" class="n" x="3412" y="2553"/><text class="c" x="3461" y="2502">succ_c</text></g>
<g id="n171"><use href="#S" class="d" x="3452" y="2645"/><text class="c" x="3453" y="2670">atp_c</text></g>
<g id="n172"><use href="#S" class="d" x="3492" y="2715"/><text class="c" x="3411" y="2692">coa_c</text></g>
<g id="n173"><use href="#S" class="d" x="3785" y="2737"/><text class="c" x="3751" y="2783">pi_c</text></g>
<g id="n174"><use href="#S" class="d" x="3760" y="2802"/><text class="s" x="3779" y="2802">adp_c</text></g>
<g id="n175"><use href="#L" class="n" x="3730" y="2879"/><text class="s" x="3755" y="2879">succoa_c</text></g>
<g id="n176"><use href="#S" class="d" x="3812" y="2918"/><text class="c" x="3766" y="2966">nadh_c</text></g>
<g id="n177"><use href="#S" class="d" x="3863" y="2971"/><text class="s" x="3883" y="2971">co2_c</text></g>
<g id="n178"><use href="#S" class="d" x="3096" y="3088"/><text class="c" x="3048" y="3042">accoa_c</text></g>
<g id="n179"><use href="#S" class="d" x="3162" y="3165"/><text class="c" x="3203" y="3120">h2o_c</text></g>
<g id="n180"><use href="#L" class="n" x="3172" y="3256"/><text class="c" x="3215" y="3205">glx_c</text></g>
<g id="n181"><use href="#S" class="d" x="3179" y="3662"/><text class="c" x="3221" y="3616">h2o_c</text></g>
<g id="n182"><use href="#L" class="n" x="3191" y="3739"/><text class="c" x="3130" y="3792">acon_C_c</text></g>
<g id="n183"><use href="#L" class="n" x="3405" y="3662"/><text class="c" x="3363" y="3611">icit_c</text></g>
<g id="n184"><use href="#S" class="d" x="3487" y="3751"/><text class="c" x="3441" y="3798">nadp_c</text></g>
<g id="n185"><use href="#S" class="d" x="3651" y="3346"/><text class="c" x="3601" y="3300">nadph_c</text></g>
<g id="n186"><use href="#S" class="d" x="3613" y="3396"/><text class="s" x="3632" y="3396">co2_c</text></g>
<g id="n187"><use href="#L" class="n" x="3738" y="3313"/><text class="c" x="3784" y="3365">akg_c</text></g>
<g id="n188"><use href="#S" class="d" x="3675" y="3192"/><text class="c" x="3635" y="3198">nad_c</text></g>
<g id="n189"><use href="#S" class="d" x="3675" y="3243"/><text class="c" x="3635" y="3238">coa_c</text></g>
<g id="n190"><use href="#S" class="d" x="3934" y="3243"/><text class="c" x="3893" y="3243">nh4_c</text></g>
<g id="n191"><use href="#S" class="d" x="3984" y="3243"/><text class="c" x="3935" y="3198">nadph_c</text></g>
<g id="n192"><use href="#S" class="d" x="4033" y="3243"/><text class="c" x="4002" y="3289">h_c</text></g>
<g id="n193"><use href="#S" class="d" x="4133" y="3243"/><text class="c" x="4089" y="3289">nadp_c</text></g>
<g id="n194"><use href="#S" class="d" x="4184" y="3243"/><text class="c" x="4225" y="3198">h2o_c</text></g>
<g id="n195"><use href="#L" class="n" x="4240" y="3318"/><text class="c" x="4298" y="3267">glu__L_c</text></g>
<g id="n196"><use href="#S" class="d" x="4034" y="3445"/><text class="c" x="3990" y="3492">nadp_c</text></g>
<g id="n197"><use href="#S" class="d" x="4020" y="3617"/><text class="c" x="3971" y="3572">nadph_c</text></g>
<g id="n198"><use href="#S" class="d" x="4020" y="3668"/><text class="c" x="3989" y="3714">h_c</text></g>
<g id="n199"><use href="#S" class="d" x="4185" y="3448"/><text class="c" x="4144" y="3448">nh4_c</text></g>
<g id="n200"><use href="#S" class="d" x="4192" y="3626"/><text class="c" x="4234" y="3580">h2o_c</text></g>
<g id="n201"><use href="#L" class="n" x="4237" y="3781"/><text class="c" x="4182" y="3729">gln__L_c</text></g>
<g id="n202"><use href="#S" class="d" x="4469" y="3374"/><text class="c" x="4437" y="3420">h_c</text></g>
<g id="n203"><use href="#S" class="d" x="4433" y="3441"/><text class="c" x="4394" y="3395">atp_c</text></g>
<g id="n204"><use href="#S" class="d" x="4433" y="3492"/><text class="c" x="4390" y="3492">nh4_c</text></g>
<g id="n205"><use href="#S" class="d" x="4426" y="3641"/><text class="s" x="4445" y="3641">adp_c</text></g>
<g id="n206"><use href="#S" class="d" x="4426" y="3689"/><text class="c" x="4395" y="3736">h_c</text></g>
<g id="n207"><use href="#S" class="d" x="4426" y="3739"/><text class="c" x="4393" y="3787">pi_c</text></g>
<g id="n208"><use href="#S" class="d" x="4278" y="3944"/><text class="c" x="4244" y="3991">pi_c</text></g>
<g id="n209"><use href="#S" class="d" x="4327" y="3944"/><text class="c" x="4296" y="3991">h_c</text></g>
<g id="n210"><use href="#S" class="d" x="4377" y="3944"/><text class="s" x="4397" y="3944">adp_c</text></g>
<g id="n211"><use href="#S" class="d" x="4477" y="3944"/><text class="c" x="4485" y="3899">atp_c</text></g>
<g id="n212"><use href="#S" class="d" x="4526" y="3944"/><text class="c" x="4518" y="3899">h2o_c</text></g>
<g id="n213"><use href="#L" class="n" x="4875" y="3320"/><text class="c" x="4875" y="3269">glu__L_e</text></g>
<g id="n214"><use href="#S" class="d" x="4817" y="3389"/><text class="s" x="4836" y="3389">h_e</text></g>
<g id="n215"><use href="#L" class="n" x="4874" y="3844"/><text class="c" x="4817" y="3896">gln__L_e</text></g>
<g id="n216"><use href="#L" class="d" x="3249" y="4119"/><text class="c" x="3295" y="4070">h2o_c</text></g>
<g id="n217"><use href="#L" class="n" x="3249" y="4441"/><text class="s" x="3273" y="4441">h2o_e</text></g>
<g id="n218"><use href="#L" class="d" x="3613" y="4119"/><text class="s" x="3637" y="4119">co2_c</text></g>
<g id="n219"><use href="#L" class="n" x="3613" y="4441"/><text class="s" x="3637" y="4441">co2_e</text></g>
<g id="n220"><use href="#L" class="n" x="3981" y="4127"/><text class="c" x="3935" y="4127">nh4_c</text></g>
<g id="n221"><use href="#L" class="n" x="3981" y="4444"/><text class="s" x="4005" y="4444">nh4_e</text></g>
<g id="n222"><use href="#S" class="d" x="4501" y="4289"/><text class="c" x="4455" y="4243">_3pg_c</text></g>
<g id="n223"><use href="#S" class="d" x="4407" y="4315"/><text class="c" x="4365" y="4270">pep_c</text></g>
<g id="n224"><use href="#S" class="d" x="4324" y="4336"/><text class="c" x="4274" y="4292">gln__L_c</text></g>
<g id="n225"><use href="#S" class="d" x="4261" y="4367"/><text class="c" x="4209" y="4324">nadph_c</text></g>
<g id="n226"><use href="#S" class="d" x="4595" y="4262"/><text class="c" x="4545" y="4218">accoa_c</text></g>
<g id="n227"><use href="#S" class="d" x="4694" y="4245"/><text class="c" x="4652" y="4201">g6p_c</text></g>
<g id="n228"><use href="#S" class="d" x="4776" y="4229"/><text class="c" x="4776" y="4185">oaa_c</text></g>
<g id="n229"><use href="#S" class="d" x="4886" y="4215"/><text class="c" x="4844" y="4170">nad_c</text></g>
<g id="n230"><use href="#S" class="d" x="4980" y="4196"/><text class="c" x="4942" y="4151">pyr_c</text></g>
<g id="n231"><use href="#S" class="d" x="5078" y="4184"/><text class="c" x="5041" y="4138">f6p_c</text></g>
<g id="n232"><use href="#S" class="d" x="5176" y="4175"/><text class="c" x="5137" y="4129">atp_c</text></g>
<g id="n233"><use href="#S" class="d" x="5395" y="4104"/><text class="c" x="5395" y="4060">r5p_c</text></g>
<g id="n234"><use href="#S" class="d" x="5430" y="4153"/><text class="c" x="5470" y="4107">e4p_c</text></g>
<g id="n235"><use href="#S" class="d" x="5503" y="4203"/><text class="c" x="5545" y="4158">g3p_c</text></g>
<g id="n236"><use href="#S" class="d" x="5520" y="4259"/><text class="c" x="5560" y="4215">h2o_c</text></g>
<g id="n237"><use href="#S" class="d" x="5527" y="4338"/><text class="c" x="5577" y="4294">glu__L_c</text></g>
<g id="n238"><use href="#S" class="d" x="4925" y="4517"/><text class="c" x="4892" y="4565">pi_c</text></g>
<g id="n239"><use href="#S" class="d" x="5020" y="4551"/><text class="c" x="4976" y="4598">nadp_c</text></g>
<g id="n240"><use href="#S" class="d" x="5126" y="4584"/><text class="c" x="5080" y="4630">nadh_c</text></g>
<g id="n241"><use href="#S" class="d" x="5201" y="4618"/><text class="c" x="5160" y="4666">coa_c</text></g>
<g id="n242"><use href="#S" class="d" x="5254" y="4680"/><text class="c" x="5223" y="4728">h_c</text></g>
<g id="n243"><use href="#S" class="d" x="5496" y="4611"/><text class="s" x="5514" y="4611">adp_c</text></g>
<g id="n244"><use href="#S" class="d" x="5473" y="4665"/><text class="c" x="5513" y="4713">akg_c</text></g>
</g>
</svg>
